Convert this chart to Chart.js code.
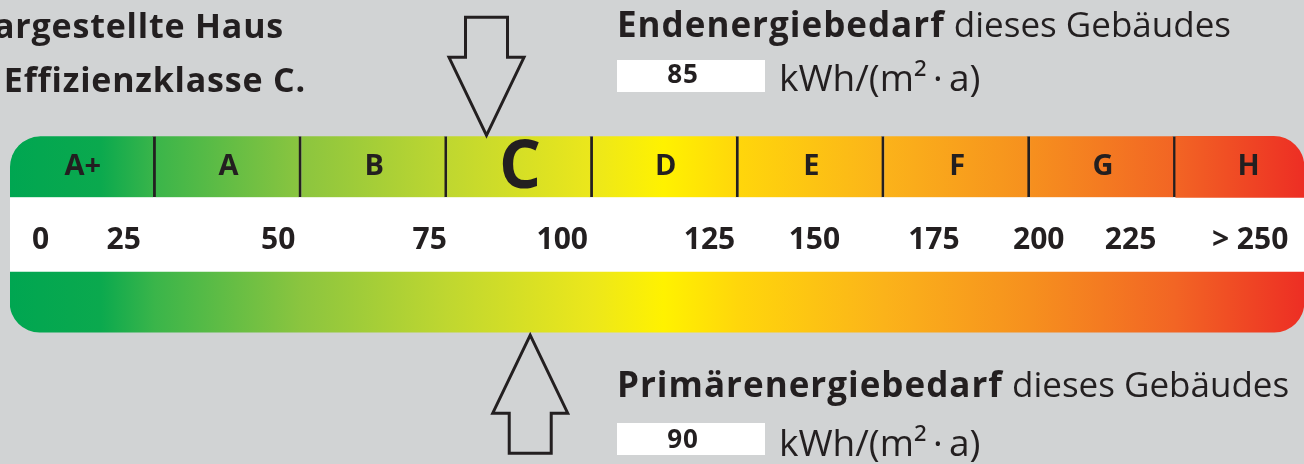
<!DOCTYPE html>
<html lang="de">
<head>
<meta charset="utf-8">
<title>Energieeffizienzklasse</title>
<script src="https://cdn.jsdelivr.net/npm/chart.js@4.4.1/dist/chart.umd.min.js"></script>
<style>
  html, body { margin: 0; padding: 0; background: #d1d3d4; overflow: hidden; }
  canvas { display: block; }
</style>
</head>
<body>
<canvas id="scale" width="1304" height="464"></canvas>
<script>
// classes and where their edges sit on the class axis (H is a bit shorter)
const classes = ["A+", "A", "B", "C", "D", "E", "F", "G", "H"];
const classEdges = [0, 1, 2, 3, 4, 5, 6, 7, 8, 8.88];
const currentClass = "C";

// kWh marks printed in the white band, and where they sit on the class axis
const tickLabels = ["0", "25", "50", "75", "100", "125", "150", "175", "200", "225", "> 250"];
const tickAt = [0.21, 0.78, 1.84, 2.88, 3.79, 4.8, 5.52, 6.34, 7.06, 7.69, 8.51];

const rows = ["Klasse", "Verlauf", "Skala"];

const endenergie = 85;
const endenergieAt = 3.27;
const primaerenergie = 90;
const primaerenergieAt = 3.57;

const ink = "#231f20";
const face = "'Open Sans', sans-serif";

const bandStops = [
  [0, "#00a651"], [0.07, "#0ba94e"], [0.112, "#3ab54a"], [0.225, "#8bc53f"],
  [0.338, "#bfd730"], [0.45, "#ece71b"], [0.505, "#fff200"], [0.563, "#ffd60b"],
  [0.675, "#fbb31a"], [0.788, "#f6901e"], [0.9, "#f26524"], [1, "#ed2e24"],
];

const bandGradient = (context) => {
  const { chart } = context;
  const area = chart.chartArea;
  if (!area) return "#8bc53f";
  const g = chart.ctx.createLinearGradient(area.left, 0, area.right, 0);
  bandStops.forEach(([o, c]) => g.addColorStop(o, c));
  return g;
};

const last = classes.length - 1;
const fullSpan = [classEdges[0], classEdges[classEdges.length - 1]];

function arrow(ctx, cx, tipY, dir) {
  // dir 1 = pointing down, -1 = pointing up
  const head = 78, shaft = 40, hw = 37.5, sw = 21;
  const baseY = tipY - dir * head;
  const endY = baseY - dir * shaft;
  ctx.beginPath();
  ctx.moveTo(cx, tipY);
  ctx.lineTo(cx - hw, baseY);
  ctx.lineTo(cx - sw, baseY);
  ctx.lineTo(cx - sw, endY);
  ctx.lineTo(cx + sw, endY);
  ctx.lineTo(cx + sw, baseY);
  ctx.lineTo(cx + hw, baseY);
  ctx.closePath();
  ctx.stroke();
}

function heading(ctx, bold, rest, left, baseline) {
  ctx.textAlign = "left";
  ctx.font = `bold 35px ${face}`;
  ctx.letterSpacing = "1px";
  ctx.fillText(bold, left, baseline);
  const w = ctx.measureText(bold).width;
  ctx.font = `35px ${face}`;
  ctx.letterSpacing = "0px";
  ctx.fillText(rest, left + w, baseline);
}

function valueBox(ctx, value, left, top, baseline) {
  ctx.fillStyle = "#ffffff";
  ctx.fillRect(left, top, 148, 32);
  ctx.fillStyle = ink;
  ctx.textAlign = "center";
  ctx.font = `bold 26px ${face}`;
  ctx.letterSpacing = "1px";
  ctx.fillText(String(value), left + 66, baseline);
  ctx.letterSpacing = "0px";
  ctx.textAlign = "left";
  ctx.font = `37px ${face}`;
  ctx.fillText("kWh/(m²\u2009·\u2009a)", left + 162, baseline + 8);
}

const annotate = {
  id: "annotate",
  afterDatasetsDraw(chart) {
    const { ctx } = chart;
    const x = chart.scales.x;
    const topRow = chart.getDatasetMeta(0).data;
    const bottomRow = chart.getDatasetMeta(1).data[0];
    ctx.save();
    ctx.fillStyle = ink;
    ctx.textAlign = "center";
    classes.forEach((c, i) => {
      const big = c === currentClass;
      ctx.font = `bold ${big ? 66 : 29}px ${face}`;
      ctx.fillText(c, x.getPixelForValue(classEdges[i] + 0.5), topRow[i].y + (big ? 21 : 8));
    });

    ctx.strokeStyle = ink;
    ctx.lineWidth = 3;
    ctx.lineJoin = "miter";
    const t = topRow[0];
    arrow(ctx, x.getPixelForValue(endenergieAt), t.y - t.height / 2 - 1, 1);
    arrow(ctx, x.getPixelForValue(primaerenergieAt), bottomRow.y + bottomRow.height / 2 + 3, -1);

    // caption on the left, cut by the page edge like in the source
    ctx.textAlign = "right";
    ctx.font = `bold 34px ${face}`;
    ctx.letterSpacing = "0.8px";
    ctx.fillText("Das dargestellte Haus", 284, 38);
    ctx.fillText("hat die Effizienzklasse C.", 306, 92);
    ctx.letterSpacing = "0px";

    heading(ctx, "Endenergiebedarf", " dieses Gebäudes", 617, 37);
    valueBox(ctx, endenergie, 617, 60, 83);
    ctx.fillStyle = ink;
    heading(ctx, "Primärenergiebedarf", " dieses Gebäudes", 617, 397);
    valueBox(ctx, primaerenergie, 617, 423, 448);
    ctx.restore();
  },
};

new Chart(document.getElementById("scale"), {
  type: "bar",
  data: {
    labels: rows,
    datasets: [
      {
        label: "Effizienzklassen",
        data: classes.map((c, i) => ({ x: [classEdges[i], classEdges[i + 1]], y: "Klasse" })),
        backgroundColor: bandGradient,
        borderColor: ink,
        borderWidth: (ctx) => ({ top: 0, left: 0, bottom: 0, right: ctx.dataIndex < last ? 3 : 0 }),
        borderSkipped: false,
        borderRadius: (ctx) => ({
          topLeft: ctx.dataIndex === 0 ? 31 : 0,
          topRight: ctx.dataIndex === last ? 31 : 0,
          bottomLeft: 0,
          bottomRight: 0,
        }),
        barThickness: 61,
        grouped: false,
      },
      {
        label: "Verlauf",
        data: [{ x: fullSpan, y: "Verlauf" }],
        backgroundColor: bandGradient,
        borderWidth: 0,
        borderSkipped: false,
        borderRadius: { topLeft: 0, topRight: 0, bottomLeft: 30, bottomRight: 30 },
        barThickness: 60,
        grouped: false,
      },
      {
        label: "Skala",
        data: [{ x: fullSpan, y: "Skala" }],
        backgroundColor: "#ffffff",
        borderWidth: 0,
        barThickness: 75,
        grouped: false,
      },
    ],
  },
  options: {
    indexAxis: "y",
    responsive: false,
    animation: false,
    devicePixelRatio: 1,
    layout: { padding: { left: 10, right: 0, top: 133, bottom: 128 } },
    scales: {
      y: {
        type: "category",
        labels: ["Klasse", "Skala", "Verlauf"],
        display: false,
      },
      x: {
        type: "linear",
        min: fullSpan[0],
        max: fullSpan[1],
        position: { y: "Skala" },
        z: 1,
        grid: { display: false, drawTicks: false },
        border: { display: false },
        afterBuildTicks: (axis) => {
          axis.ticks = tickAt.map((v) => ({ value: v }));
        },
        afterFit: (axis) => {
          axis.height = 0;
        },
        ticks: {
          z: 1,
          autoSkip: false,
          maxRotation: 0,
          minRotation: 0,
          padding: -12,
          color: ink,
          font: { family: face, size: 30, weight: "bold" },
          callback: (value, index) => tickLabels[index],
        },
      },
    },
    plugins: {
      legend: { display: false },
      tooltip: { enabled: false },
    },
  },
  plugins: [annotate],
});
</script>
</body>
</html>
